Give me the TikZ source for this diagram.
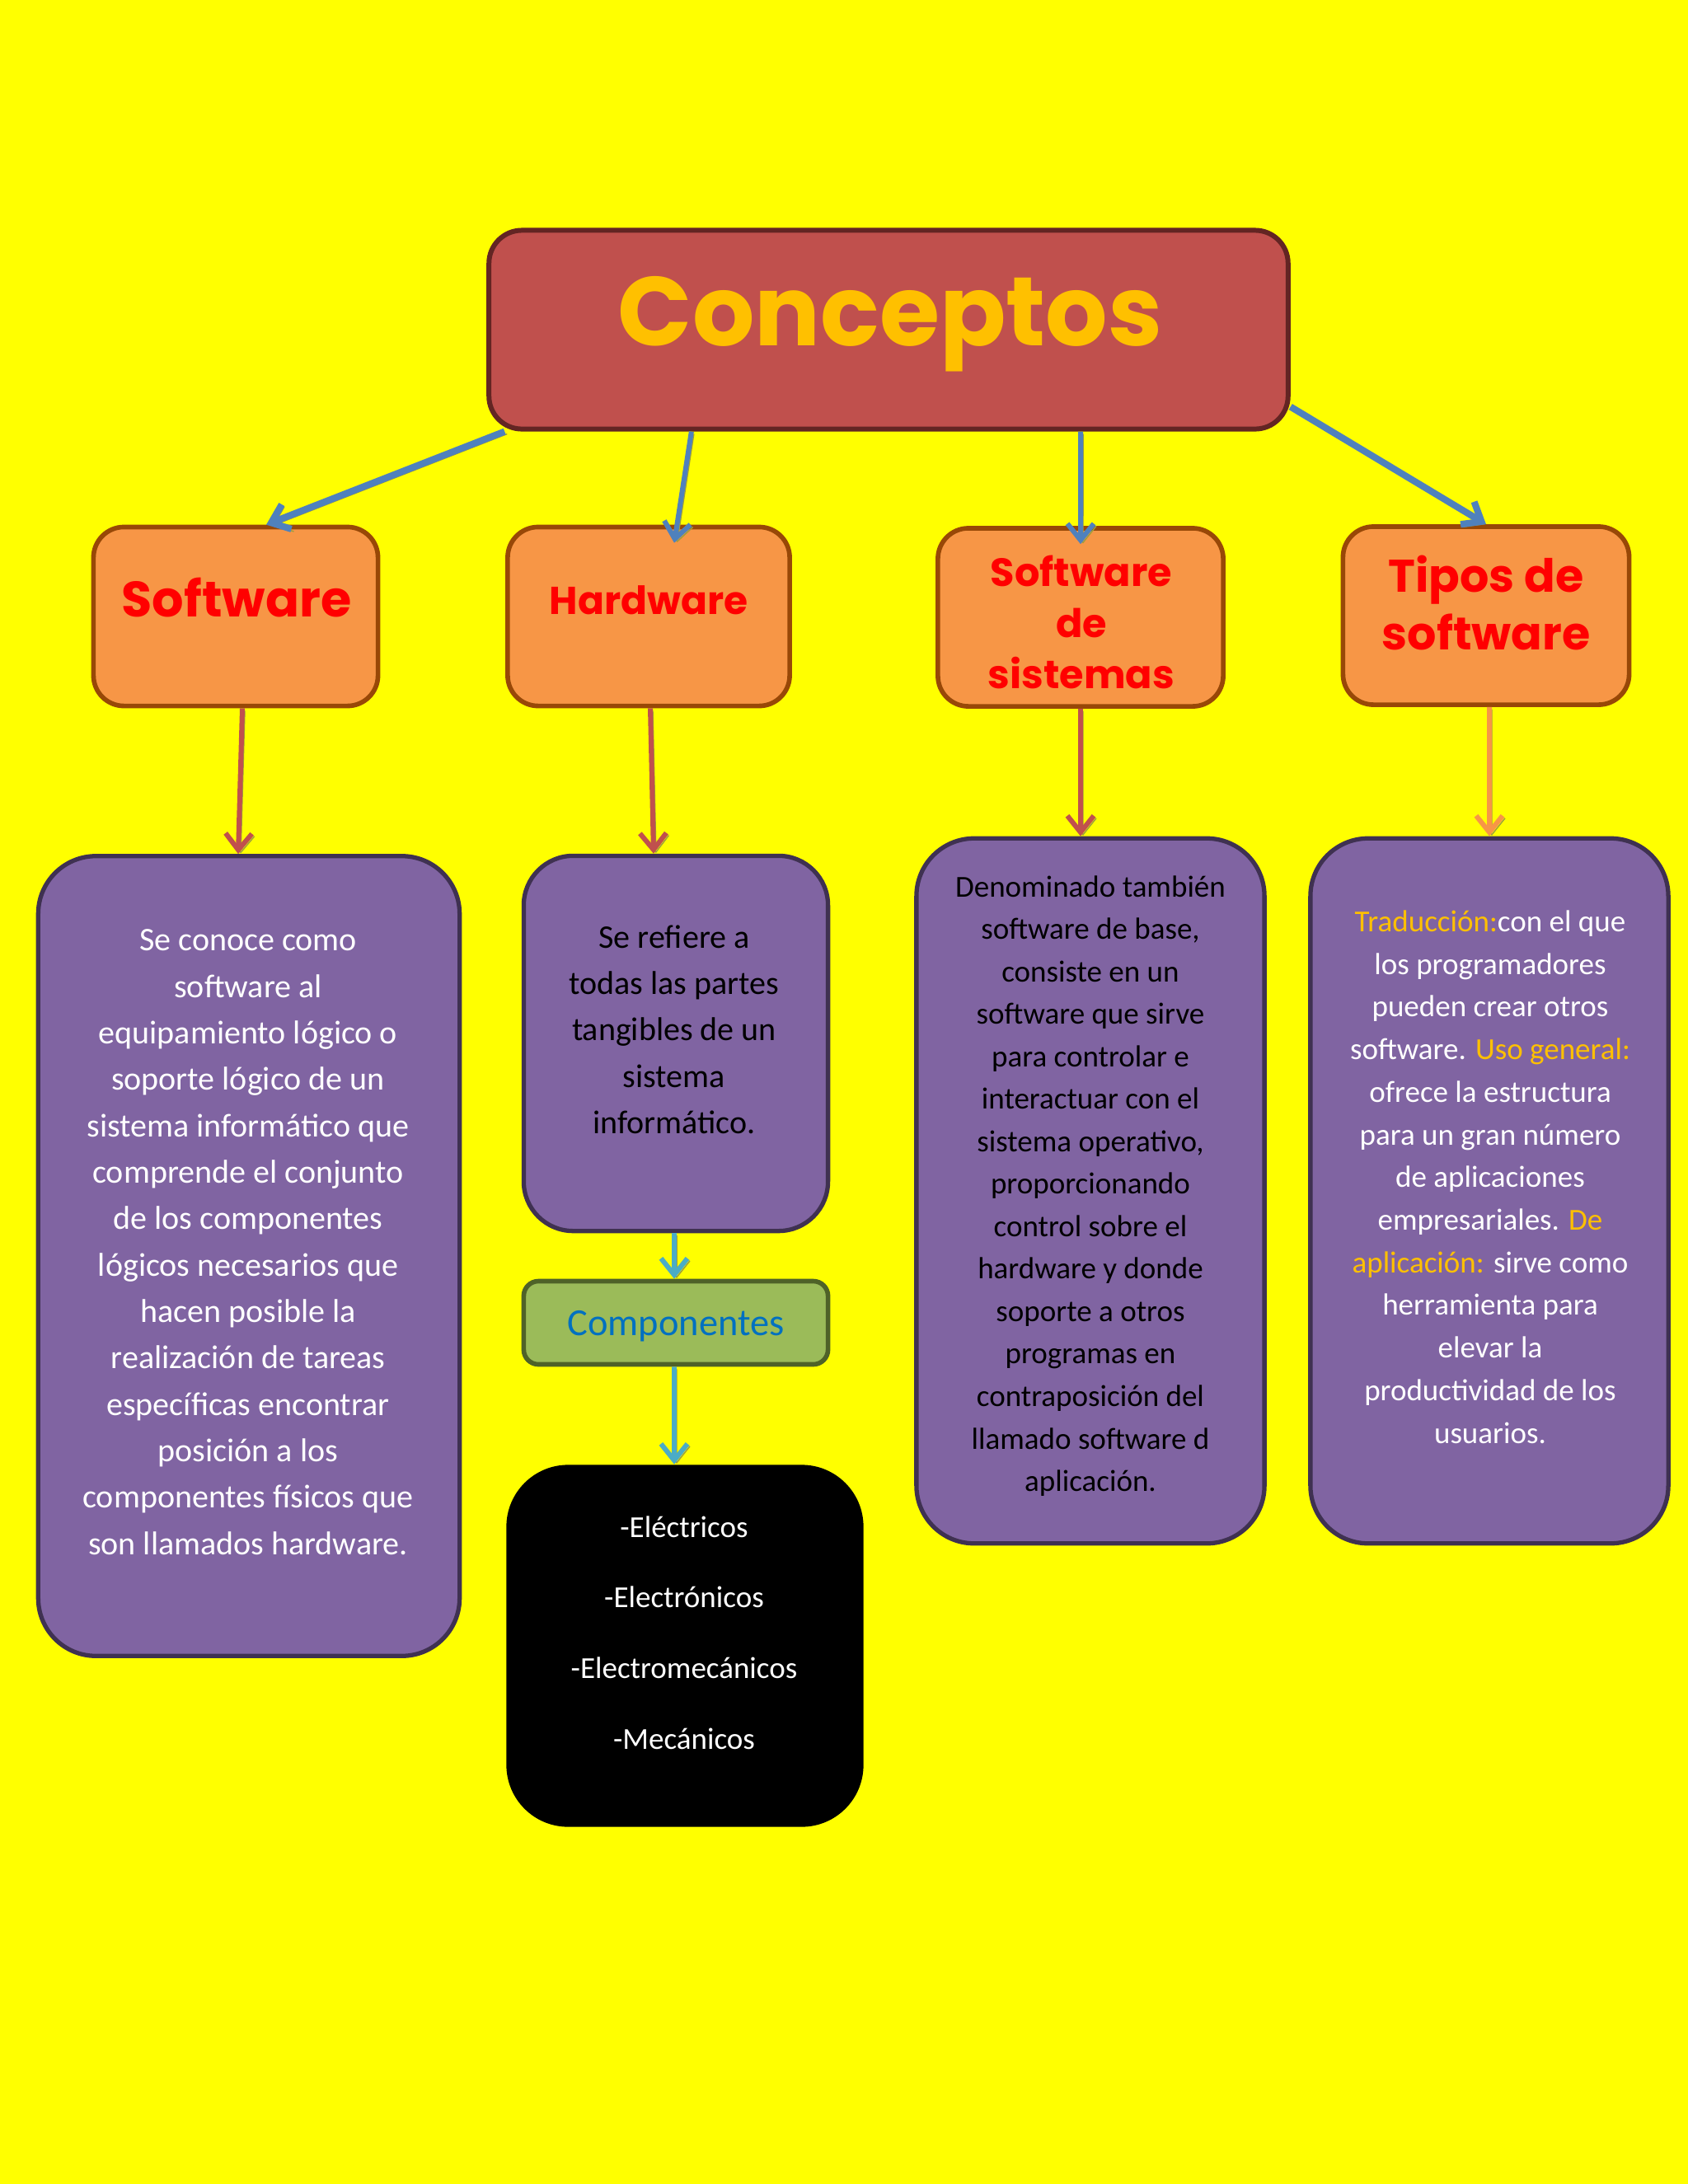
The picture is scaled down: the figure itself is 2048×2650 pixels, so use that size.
\documentclass[tikz,border=0pt]{standalone}
\usepackage{fontspec}
\setmainfont{Carlito}
\newfontfamily\decofont{Poppins}
\usetikzlibrary{positioning, calc, arrows.meta}

\definecolor{fondo}{RGB}{255,255,0}
\definecolor{tituloFill}{RGB}{192,80,77}
\definecolor{tituloDraw}{RGB}{99,37,35}
\definecolor{oro}{RGB}{255,192,0}
\definecolor{naranja}{RGB}{247,150,70}
\definecolor{naranjaDraw}{RGB}{152,72,7}
\definecolor{rojo}{RGB}{255,0,0}
\definecolor{morado}{RGB}{128,100,162}
\definecolor{moradoDraw}{RGB}{63,49,81}
\definecolor{verde}{RGB}{155,187,89}
\definecolor{verdeDraw}{RGB}{79,98,40}
\definecolor{azulTxt}{RGB}{0,112,192}
\definecolor{azul}{RGB}{79,129,189}
\definecolor{cian}{RGB}{75,172,198}
\definecolor{sombra}{RGB}{158,158,60}

\newcommand{\deco}[2]{\decofont\bfseries\fontsize{#1}{#2}\selectfont}

\begin{document}
\begin{tikzpicture}[
    x=0.01cm, y=-0.01cm,
    titulo/.style={rectangle, draw=tituloDraw, fill=tituloFill, line width=1.7pt,
                   rounded corners=0.4cm, minimum width=9.69cm, minimum height=2.41cm},
    tema/.style={rectangle, draw=naranjaDraw, fill=naranja, line width=1.6pt,
                 rounded corners=0.37cm, minimum width=3.45cm, minimum height=2.17cm},
    temaTxt/.style={inner sep=0pt, text=rojo, align=center},
    nota/.style={rectangle, draw=moradoDraw, fill=morado, line width=1.5pt,
                 rounded corners=0.7cm},
    notaTxt/.style={inner sep=0pt, align=center, font=\fontsize{11.38pt}{16.02pt}\selectfont},
    flecha/.style={line width=1.7pt, -{Straight Barb[length=0.2cm, width=0.32cm]},
                   preaction={draw=sombra, transform canvas={shift={(3,3)}}}},
  ]
    \useasboundingbox (0,0) rectangle (2048,2650);
    \fill[fondo] (0,0) rectangle (2048,2650);

    % titulo
    \node[titulo] (concepto) at (1078,400) {};
    \node[inner sep=0pt, anchor=base, text=oro, font=\deco{33.7pt}{40pt}] (conceptoTxt) at (1080,419) {Conceptos};

    % temas
    \node[tema] (soft) at (286,748) {};
    \node[temaTxt, anchor=base, font=\deco{17.2pt}{20pt}] (softTxt) at (287,748) {Software};

    \node[tema, minimum width=3.42cm] (hard) at (787,748) {};
    \node[temaTxt, anchor=base, font=\deco{13.4pt}{15pt}] (hardTxt) at (787,745) {Hardware};

    \node[tema, minimum width=3.46cm, minimum height=2.16cm] (sist) at (1311,749) {};
    \node[temaTxt, font=\deco{13.6pt}{17.6pt}] (sistTxt) at (1312,755) {Software\\de\\sistemas};

    \node[tema, minimum width=3.47cm, minimum height=2.16cm] (tipos) at (1803,747) {};
    \node[temaTxt, font=\deco{15.8pt}{19.9pt}] (tiposTxt) at (1803,731) {Tipos de\\software};

    % notas
    \node[nota, minimum width=5.11cm, minimum height=9.70cm] (softNota) at (302,1524) {};
    \node[notaTxt, text=white] (softNotaTxt) at (301,1507) {
      Se conoce como\\software al\\equipamiento lógico o\\soporte lógico de un\\
      sistema informático que\\comprende el conjunto\\de los componentes\\
      lógicos necesarios que\\hacen posible la\\realización de tareas\\
      específicas encontrar\\posición a los\\componentes físicos que\\
      son llamados hardware.
    };

    \node[nota, minimum width=3.69cm, minimum height=4.55cm, rounded corners=0.6cm] (hardNota) at (820,1266) {};
    \node[notaTxt, text=black] (hardNotaTxt) at (818,1249) {
      Se refiere a\\todas las partes\\tangibles de un\\sistema\\informático.
    };

    \node[rectangle, draw=verdeDraw, fill=verde, line width=1.6pt, rounded corners=0.18cm,
          minimum width=3.69cm, minimum height=1.01cm] (comp) at (820,1605) {};
    \node[inner sep=0pt, anchor=base, text=azulTxt, font=\fontsize{13.2pt}{16pt}\selectfont] (compTxt) at (820,1620) {Componentes};

    \node[rectangle, fill=black, rounded corners=0.75cm, minimum width=4.33cm, minimum height=4.39cm] (lista) at (831,1997) {};
    \node[notaTxt, text=white, font=\fontsize{10.53pt}{24.35pt}\selectfont] (listaTxt) at (830,1981) {
      -Eléctricos\\-Electrónicos\\-Electromecánicos\\-Mecánicos
    };

    \node[nota, minimum width=4.22cm, minimum height=8.55cm] (sistNota) at (1323,1445) {};
    \node[notaTxt, text=black, font=\fontsize{10.53pt}{14.65pt}\selectfont] (sistNotaTxt) at (1323,1439) {
      Denominado también\\software de base,\\consiste en un\\software que sirve\\
      para controlar e\\interactuar con el\\sistema operativo,\\proporcionando\\
      control sobre el\\hardware y donde\\soporte a otros\\programas en\\
      contraposición del\\llamado software d\\aplicación.
    };

    \node[nota, minimum width=4.34cm, minimum height=8.55cm] (tiposNota) at (1807,1445) {};
    \node[notaTxt, text=white, font=\fontsize{10.53pt}{14.71pt}\selectfont] (tiposNotaTxt) at (1808,1428) {
      \textcolor{oro}{Traducción:}con el que\\los programadores\\pueden crear otros\\
      software. \textcolor{oro}{Uso general:}\\ofrece la estructura\\para un gran número\\
      de aplicaciones\\empresariales. \textcolor{oro}{De}\\\textcolor{oro}{aplicación:} sirve como\\
      herramienta para\\elevar la\\productividad de los\\usuarios.
    };

    % flechas
    \draw[flecha, draw=azul, line width=2.3pt] ([xshift=0.22cm]concepto.south west) -- ([xshift=0.37cm]soft.north);
    \draw[flecha, draw=azul] ([xshift=-2.39cm]concepto.south) -- ([xshift=0.31cm, yshift=-0.22cm]hard.north);
    \draw[flecha, draw=azul] ([xshift=2.33cm]concepto.south) -- ([yshift=-0.22cm]sist.north);
    \draw[flecha, draw=azul, line width=2.3pt] ([yshift=0.3cm]concepto.south east) -- (tipos.north);

    \draw[flecha, draw=tituloFill] ([xshift=0.08cm]soft.south) -- ([xshift=-0.13cm]softNota.north);
    \draw[flecha, draw=tituloFill] ([xshift=0.02cm]hard.south) -- ([xshift=-0.27cm]hardNota.north);
    \draw[flecha, draw=tituloFill] (sist.south) -- ([xshift=-0.12cm]sistNota.north);
    \draw[flecha, draw=naranja] ([xshift=0.04cm]tipos.south) -- (tiposNota.north);

    \draw[flecha, draw=cian] ([xshift=-0.02cm]hardNota.south) -- ([xshift=-0.02cm]comp.north);
    \draw[flecha, draw=cian] ([xshift=-0.02cm]comp.south) -- ([xshift=-0.13cm]lista.north);
  \end{tikzpicture}
\end{document}
